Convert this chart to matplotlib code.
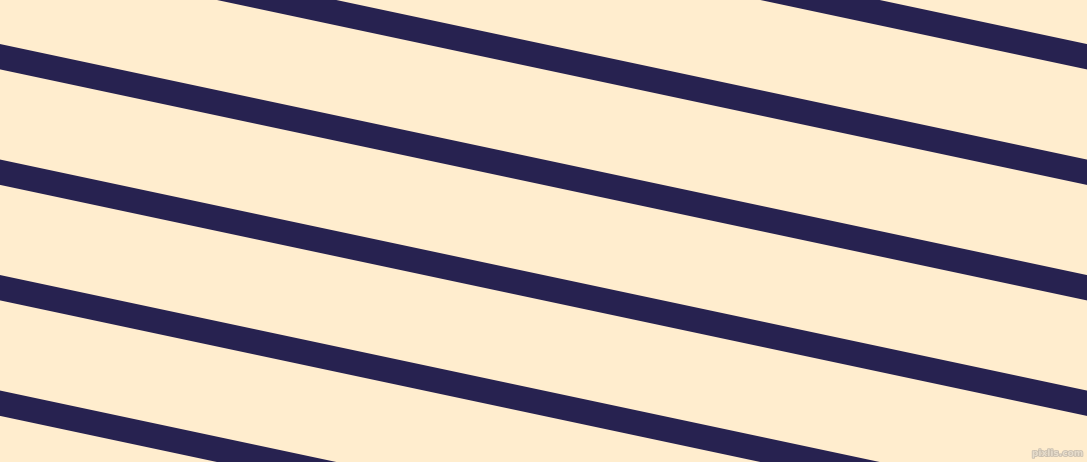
import numpy as np
import matplotlib
matplotlib.use('Agg')
import matplotlib.pyplot as plt
import matplotlib.patheffects as pe

W, H = 1087, 462
bg_color = '#FFEDCE'
stripe_color = '#272250'

# stripe centre lines: y at x=0 (pixels, from top), and the common slope angle
stripe_offsets = [-174.3, -58.8, 56.7, 172.2, 287.7, 403.2]
stripe_angle = 12.0      # degrees, falling to the right
stripe_width = 24.8      # pixels, measured across the stripe

fig = plt.figure(figsize=(W / 100, H / 100), dpi=100)
fig.patch.set_facecolor(bg_color)
ax = fig.add_axes([0, 0, 1, 1])
ax.set_facecolor(bg_color)
ax.set_xlim(0, W)
ax.set_ylim(H, 0)
ax.axis('off')

slope = np.tan(np.radians(stripe_angle))
half = stripe_width / 2 / np.cos(np.radians(stripe_angle))   # vertical half-height
xs = np.array([-50, W + 50])
for b in stripe_offsets:
    yc = b + slope * xs
    ax.fill_between(xs, yc - half, yc + half, color=stripe_color, linewidth=0)

ax.text(1083, 458, 'pixlis.com', ha='right', va='bottom', fontsize=6.5,
        color='#e6dccb', fontweight='bold',
        path_effects=[pe.withStroke(linewidth=1.2, foreground='#c9bfb0')])

fig.savefig('out.png', dpi=100, facecolor=bg_color)
